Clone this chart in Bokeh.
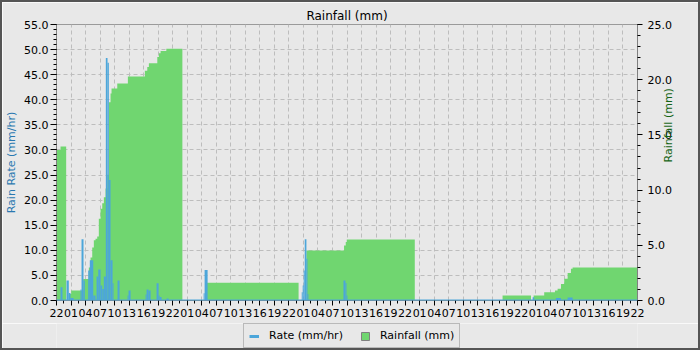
import math
from bokeh.plotting import figure
from bokeh.layouts import column
from bokeh.models import (Range1d, LinearAxis, FixedTicker, SingleIntervalTicker,
                          PrintfTickFormatter, Legend, LegendItem, Span)
from bokeh.embed import file_html
from bokeh.resources import INLINE

# time axis: hours since 22:00 of the first day (5 days shown)
x_tick_hours = [0, 3, 6, 9, 12, 15, 18, 21, 24, 27, 30, 33, 36, 39, 42, 45, 48, 51, 54, 57,
                60, 63, 66, 69, 72, 75, 78, 81, 84, 87, 90, 93, 96, 99, 102, 105, 108, 111,
                114, 117, 120]
x_tick_labels = ["22", "01", "04", "07", "10", "13", "16", "19",
                 "22", "01", "04", "07", "10", "13", "16", "19",
                 "22", "01", "04", "07", "10", "13", "16", "19",
                 "22", "01", "04", "07", "10", "13", "16", "19",
                 "22", "01", "04", "07", "10", "13", "16", "19", "22"]

# daily cumulative rainfall (mm), step series: value holds from time until next time
rain_time = [0.0, 0.83, 2.0, 2.54, 3.04, 5.52, 6.68, 7.03, 7.38, 7.71, 8.06, 8.41, 8.74,
             9.10, 9.45, 9.78, 10.13, 10.48, 10.81, 11.16, 11.37, 12.55, 14.74, 18.25,
             18.75, 19.08, 20.82, 21.15, 21.50, 22.68, 26.0, 31.0, 50.0, 51.62, 59.39,
             59.74, 59.95, 74.0, 92.13, 98.0, 98.54, 100.73, 102.95, 103.5, 104.19,
             104.87, 105.57, 106.25, 106.6]
rain_mm = [13.64, 13.95, 0.0, 0.6, 0.9, 1.95, 3.0, 3.9, 4.8, 5.45, 5.6, 5.8, 7.4,
           8.3, 8.8, 9.35, 10.15, 11.4, 17.95, 18.75, 19.2, 19.65, 20.3, 20.8,
           21.15, 21.5, 22.05, 22.4, 22.6, 22.8, 0.0, 1.6, 0.0, 4.53, 4.98,
           5.3, 5.53, 0.0, 0.45, 0.0, 0.45, 0.75, 0.9, 1.06, 1.5,
           1.97, 2.5, 2.87, 3.0]
rain_end_time = 120.0

# rain rate (mm/hr) samples: start, end, value
rate_start = [0.83, 2.07, 2.54, 2.89, 4.96, 5.17, 5.58, 6.55, 6.88, 7.59, 8.27, 8.62, 9.10,
              9.45, 9.78, 10.19, 10.54, 10.81, 11.16, 11.58, 12.61, 14.68, 14.88, 18.40,
              18.60, 19.02, 20.67, 21.09, 21.29, 22.74, 30.39, 30.59, 50.65, 50.85, 51.06,
              51.27, 51.62, 51.83, 59.27, 59.68, 59.89, 98.34, 103.15, 105.57]
rate_end = [1.24, 2.54, 2.89, 3.51, 5.17, 5.58, 5.85, 6.88, 7.59, 8.06, 8.62, 9.10, 9.45,
            9.78, 10.19, 10.54, 10.81, 11.16, 11.58, 11.78, 13.02, 14.88, 15.30, 18.60,
            19.02, 19.43, 21.09, 21.29, 21.70, 23.15, 30.59, 31.21, 50.85, 51.06, 51.27,
            51.62, 51.83, 52.03, 59.68, 59.89, 60.09, 98.67, 104.19, 106.60]
rate_value = [2.65, 4.0, 1.5, 0.5, 2.2, 12.2, 4.0, 6.0, 8.0, 1.0, 4.8, 6.2, 3.0,
              2.3, 4.8, 48.3, 47.4, 24.0, 8.0, 3.45, 4.0, 1.0, 2.0, 1.2,
              2.2, 2.0, 3.45, 1.0, 0.7, 0.4, 1.45, 6.1, 1.65, 3.0, 6.0,
              12.2, 8.3, 1.3, 4.0, 3.5, 1.0, 0.66, 0.5, 0.6]

BG = "#e8e8e8"
BLUE = "#4ca6da"
GREEN = "#70d670"
FONT = "DejaVu Sans"
INK = "#000000"

p = figure(width=696, height=321, output_backend="svg", toolbar_location=None,
           x_range=Range1d(0, 120), y_range=Range1d(0, 55),
           min_border_left=53, min_border_right=61, min_border_top=22, min_border_bottom=23,
           background_fill_color=BG, border_fill_color=BG, outline_line_color="#9a9a9a")

p.title.text = "Rainfall (mm)"
p.title.align = "center"
p.title.text_font = FONT
p.title.text_font_size = "12px"
p.title.text_font_style = "normal"
p.title.text_color = INK
p.title.offset = 5
p.title.standoff = 4

p.extra_y_ranges = {"rain": Range1d(0, 25)}

# step polygon for cumulative rainfall
xs, ys = [], []
for i, t0 in enumerate(rain_time):
    t1 = rain_time[i + 1] if i + 1 < len(rain_time) else rain_end_time
    xs += [t0, t1]
    ys += [rain_mm[i], rain_mm[i]]
p.varea(x=xs, y1=0, y2=ys, y_range_name="rain", fill_color=GREEN)

p.quad(left=rate_start, right=rate_end, bottom=0, top=rate_value,
       fill_color=BLUE, line_color=None)
p.add_layout(Span(location=0, dimension="width", line_color=BLUE, line_width=2))

def style_axis(ax, tick_out, standoff):
    ax.major_label_text_font = FONT
    ax.major_label_text_font_size = "11px"
    ax.major_label_text_color = INK
    ax.major_label_standoff = standoff
    ax.major_tick_out = tick_out
    ax.major_tick_in = 0
    ax.minor_tick_out = 3
    ax.minor_tick_in = 0
    ax.major_tick_line_color = INK
    ax.minor_tick_line_color = INK
    ax.axis_line_color = "#808080"

# left axis
la = p.left[0]
la.ticker = SingleIntervalTicker(interval=5, num_minor_ticks=5)
la.formatter = PrintfTickFormatter(format="%.1f")
la.axis_label = "Rain Rate (mm/hr)"
la.axis_label_text_color = "#2a78b0"
la.axis_label_text_font = FONT
la.axis_label_text_font_size = "11px"
la.axis_label_text_font_style = "normal"
la.axis_label_standoff = 3
style_axis(la, 6, 2)

# right axis
ra = LinearAxis(y_range_name="rain",
                ticker=SingleIntervalTicker(interval=5, num_minor_ticks=5),
                formatter=PrintfTickFormatter(format="%.1f"))
style_axis(ra, 5, 5)
ra.axis_label = "Rainfall (mm)"
ra.axis_label_text_color = "#146414"
ra.axis_label_text_font = FONT
ra.axis_label_text_font_size = "11px"
ra.axis_label_text_font_style = "normal"
ra.axis_label_standoff = -6
if "axis_label_orientation" in ra.properties():
    ra.axis_label_orientation = math.pi / 2
p.add_layout(ra, "right")

# bottom axis
xa = p.below[0]
xa.ticker = FixedTicker(ticks=x_tick_hours, minor_ticks=[i * 1.5 for i in range(81)])
xa.major_label_overrides = {h: lab for h, lab in zip(x_tick_hours, x_tick_labels)}
style_axis(xa, 5, 3)

for g in (p.xgrid[0], p.ygrid[0]):
    g.grid_line_color = "#bdbdbd"
    g.grid_line_dash = "4 3"
    g.grid_line_width = 1

# legend strip below the chart
lf = figure(width=696, height=25, output_backend="svg", toolbar_location=None,
            x_range=Range1d(0, 1), y_range=Range1d(0, 1),
            x_axis_location=None, y_axis_location=None, min_border=0,
            background_fill_color=BG, border_fill_color=BG, outline_line_color=None)
lf.grid.visible = False
proxy_line = lf.line(x=[5, 6], y=[5, 5], line_color=BLUE, line_width=3)
proxy_box = lf.quad(left=[5], right=[6], bottom=[5], top=[6], fill_color=GREEN,
                    line_color="#808080")
legend = Legend(items=[LegendItem(label="Rate (mm/hr)", renderers=[proxy_line]),
                       LegendItem(label="Rainfall (mm)", renderers=[proxy_box])],
                orientation="horizontal", location=(187, 0),
                glyph_width=10, glyph_height=10, label_standoff=10, spacing=17,
                padding=5, margin=0, label_height=12,
                label_text_font=FONT, label_text_font_size="11px", label_text_color=INK,
                background_fill_color=BG, background_fill_alpha=1.0,
                border_line_color="#8a8a8a")
lf.add_layout(legend, "center")

layout = column(p, lf, spacing=0, styles={"border": "2px solid #555555"})

open("out.html", "w").write(file_html(layout, INLINE))
